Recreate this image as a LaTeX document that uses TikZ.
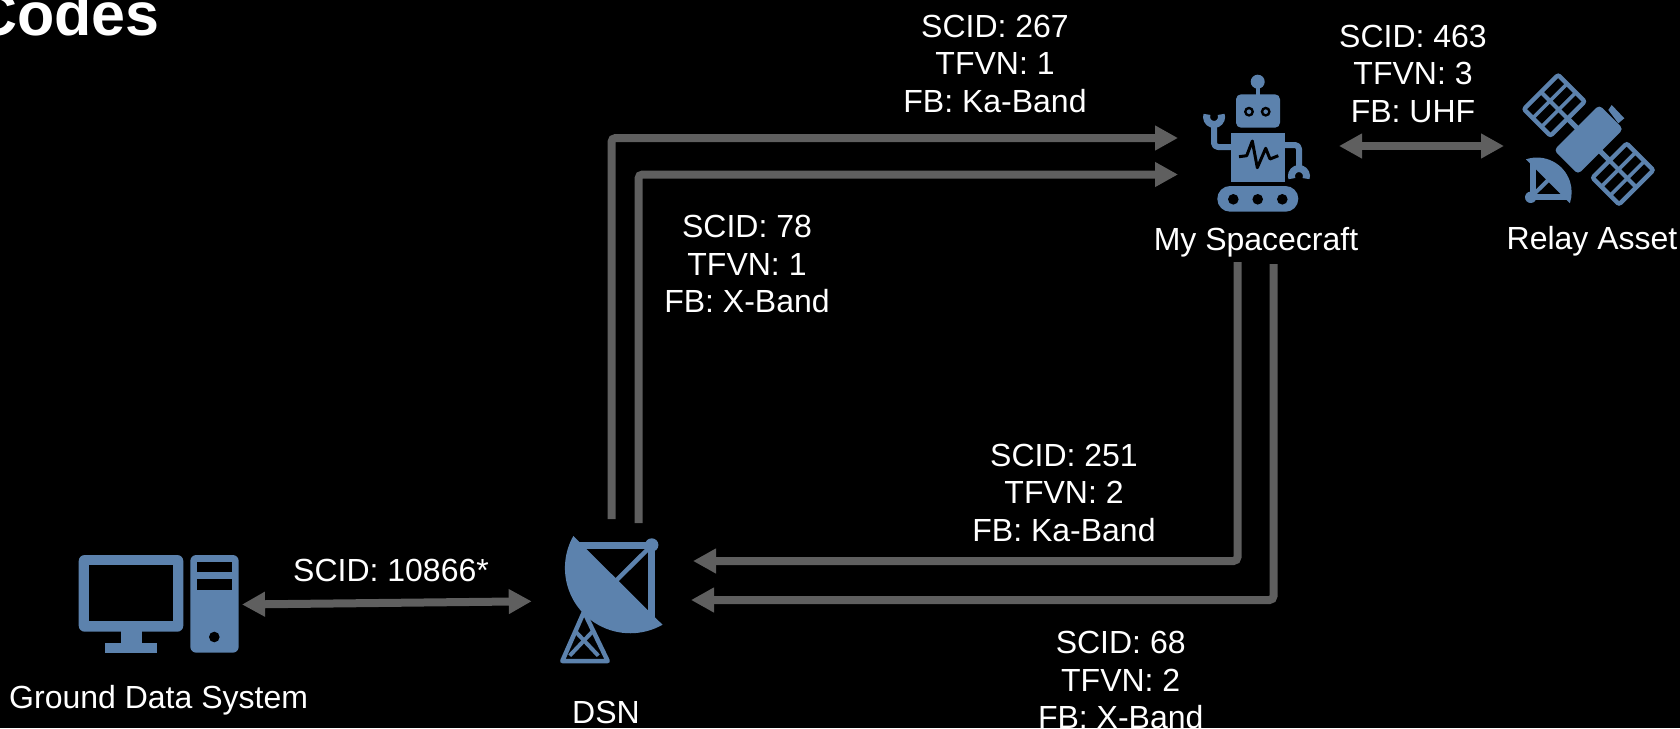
\documentclass[tikz,border=0pt]{standalone}
\usepackage{fontspec}
\setmainfont{Liberation Sans}
\usepackage{xcolor}
\usetikzlibrary{positioning,arrows.meta}
\definecolor{iconblue}{HTML}{5C82AD}
\definecolor{linkgray}{HTML}{5F5F5F}
\tikzset{
    icon/.style={fill=iconblue, draw=none},
    icon line/.style={draw=iconblue, line width=4.5pt, line join=round},
    gap/.style={fill=black, draw=none},
    link/.style={draw=linkgray, line width=8pt, rounded corners=4pt, -{Triangle[length=23pt, width=23.5pt, fill=linkgray]}},
    both link/.style={link, {Triangle[length=23pt, width=23.5pt, fill=linkgray]}-{Triangle[length=23pt, width=23.5pt, fill=linkgray]}},
    link text/.style={text=white, align=center, inner sep=0pt, font=\fontsize{32}{37.5}\selectfont}
}

\begin{document}
\begin{tikzpicture}[x=1pt, y=-1pt]
    \path[use as bounding box, fill=black] (0,0) rectangle (1680,728);
    \clip (0,0) rectangle (1680,728);

    % Title, cut by the page edge
    \node[text=white, inner sep=0pt, anchor=base east, font=\fontsize{61}{61}\selectfont\bfseries] (title) at (160,35) {Codes};

    % Ground Data System
    \fill[icon, rounded corners=6pt] (78.7,555) rectangle (183.3,631.7);
    \fill[gap] (89,565.3) rectangle (172.7,621.3);
    \fill[icon] (120.7,631) rectangle (141.7,643);
    \fill[icon] (105,642.7) rectangle (157,652.7);
    \fill[icon, rounded corners=6pt] (190.3,555) rectangle (238.7,652.7);
    \fill[gap] (197,562) rectangle (232,572.3);
    \fill[gap] (197,579.3) rectangle (232,590);
    \fill[gap] (214.3,637) circle (5.3);

    % DSN
    \draw[icon line] (562.3,661) -- (607.7,661) -- (584,611.7) -- cycle;
    \draw[icon line, line width=4pt] (575.7,631.7) -- (598.3,655.7);
    \draw[icon line, line width=4pt] (592.3,631.7) -- (569.7,655.7);
    \fill[icon] (573.3,536) arc[start angle=150.7, end angle=299.6, radius=65.3pt] -- cycle;
    \draw[icon line, line width=6.5pt] (576,545.3) -- (651.7,545.3) -- (651.7,618);
    \draw[icon line] (651.7,545.3) -- (616.7,580);
    \fill[icon] (651.7,545) circle (6.7);

    % My Spacecraft
    \fill[icon] (1257.7,81.7) circle (7);
    \draw[icon line, line width=4pt] (1257.7,81.7) -- (1257.7,96);
    \fill[icon, rounded corners=5pt] (1236,94.3) rectangle (1280,127.7);
    \fill[gap] (1249,111.7) circle (5);
    \fill[gap] (1265.7,111.7) circle (5);
    \fill[icon] (1249,111.7) circle (2.3);
    \fill[icon] (1265.7,111.7) circle (2.3);
    \fill[icon] (1230.7,133.3) rectangle (1285,181.7);
    \draw[draw=black, line width=3pt, line join=round] (1239,156.7) -- (1246.7,155.7) -- (1252.3,141) -- (1257.3,167.7) -- (1265.7,148.3) -- (1270,159) -- (1278.3,155.7);
    \draw[icon line, line width=6pt, rounded corners=4pt] (1231,147) -- (1214,147) -- (1214,124);
    \draw[icon line, line width=7pt, line join=miter] (1207,114.4) arc[start angle=160, end angle=380, radius=7.5pt];
    \draw[icon line, line width=6pt, rounded corners=4pt] (1285,145) -- (1299,145) -- (1299,170);
    \draw[icon line, line width=7pt, line join=miter] (1306,178.6) arc[start angle=-20, end angle=200, radius=7.5pt];
    \fill[icon, rounded corners=12.8pt] (1217.3,186) rectangle (1298.3,211.7);
    \foreach \wx in {1233.3,1257.7,1282.3}
        \fill[gap] (\wx,199.3) circle (5.3);

    % Relay Asset
    \begin{scope}[shift={(1588.6,139.6)}, rotate=-45]
        \fill[icon, rounded corners=4pt] (-17,-32) rectangle (17,32);
        \fill[icon] (-30,-2.5) rectangle (30,2.5);
        \foreach \sgn in {-1,1} {
            \fill[icon, rounded corners=4pt] (\sgn*27.5,-26.5) rectangle (\sgn*69.5,26.5);
            \foreach \ua/\ub in {32/40.3,44.3/52.7,56.7/65} {
                \fill[gap] (\sgn*\ua,-21.8) rectangle (\sgn*\ub,-2.2);
                \fill[gap] (\sgn*\ua,2.2) rectangle (\sgn*\ub,21.8);
            }
        }
    \end{scope}
    \fill[icon] (1608.3,110) -- (1611.7,105) -- (1624.3,118.3) -- (1618.3,123.3) -- cycle;
    \fill[icon] (1526,159.3) arc[start angle=108.4, end angle=-18.4, radius=34.7pt] -- cycle;
    \draw[icon line, line width=6pt] (1533,160) -- (1533,197) -- (1570,197);
    \draw[icon line, line width=4pt] (1530.7,197.3) -- (1548.3,180);
    \fill[icon] (1530.7,197.3) circle (5.7);

    % Icon names
    \node[link text] (gds) at (158.6,700) {Ground Data System};
    \node[link text] (dsn) at (606,712) {DSN};
    \node[link text] (craft) at (1256,242) {My Spacecraft};
    \node[link text] (relay) at (1592,241) {Relay Asset};

    % Connector ends
    \coordinate (gds end) at (242,604.5);
    \coordinate (dsn west) at (531.7,601.3);
    \coordinate (dsn up a) at (611.5,519);
    \coordinate (dsn up b) at (638.5,523);
    \coordinate (craft in a) at (1178,138);
    \coordinate (craft in b) at (1178,174.5);
    \coordinate (craft down a) at (1237.5,262);
    \coordinate (craft down b) at (1273.5,264);
    \coordinate (dsn in a) at (693,561);
    \coordinate (dsn in b) at (691,600);
    \coordinate (craft east) at (1339,146);
    \coordinate (relay west) at (1504,146);

    % Connectors
    \draw[both link] (gds end) -- (dsn west);
    \draw[link] (dsn up a) |- (craft in a);
    \draw[link] (dsn up b) |- (craft in b);
    \draw[link] (craft down a) |- (dsn in a);
    \draw[link] (craft down b) |- (dsn in b);
    \draw[both link] (craft east) -- (relay west);

    % Link texts
    \node[link text] (sid gds) at (391,570) {SCID: 10866*};
    \node[link text] (sid ka up) at (995,63.5) {SCID: 267\\TFVN: 1\\FB: Ka-Band};
    \node[link text] (sid x up) at (747,264) {SCID: 78\\TFVN: 1\\FB: X-Band};
    \node[link text] (sid uhf) at (1413,73.5) {SCID: 463\\TFVN: 3\\FB: UHF};
    \node[link text] (sid ka down) at (1064,492.5) {SCID: 251\\TFVN: 2\\FB: Ka-Band};
    \node[link text] (sid x down) at (1120.7,680) {SCID: 68\\TFVN: 2\\FB: X-Band};
\end{tikzpicture}
\end{document}
